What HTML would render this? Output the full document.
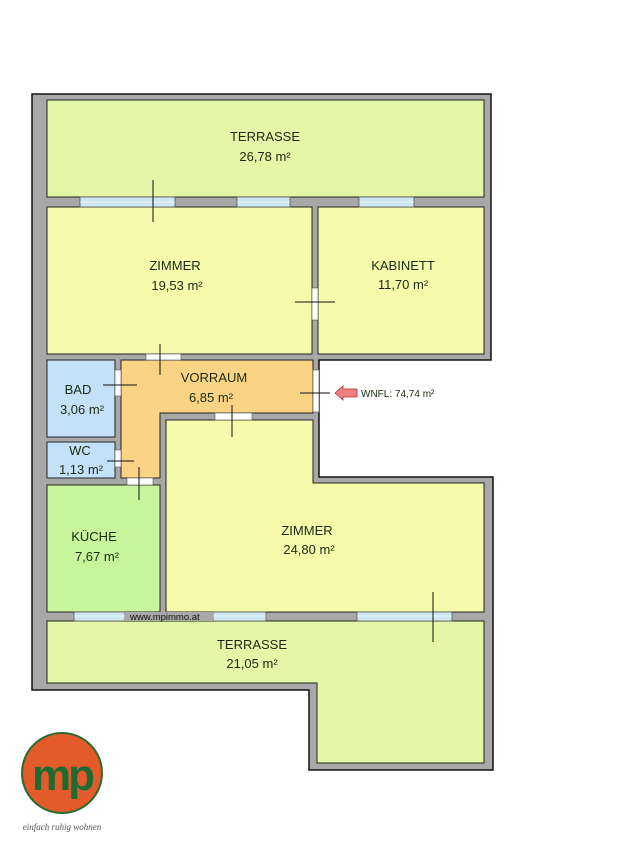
<!DOCTYPE html>
<html><head><meta charset="utf-8"><style>
body{margin:0;background:#fff;width:618px;height:850px;overflow:hidden}
svg{display:block}
text{font-family:"Liberation Sans",sans-serif;fill:#1a2a10}
</style></head><body>
<svg width="618" height="850" viewBox="0 0 618 850">
<polygon points="32,94 491,94 491,360 319,360 319,477 493,477 493,770 309,770 309,690 32,690" fill="#a8a8a8" stroke="#111" stroke-width="1.5"/>
<g stroke="#222" stroke-width="1">
<rect x="47" y="100" width="437" height="97" fill="#e4f7a6"/>
<rect x="47" y="207" width="265" height="147" fill="#f6fbac"/>
<rect x="318" y="207" width="166" height="147" fill="#f6fbac"/>
<rect x="47" y="360" width="68" height="77" fill="#c4e1fa"/>
<rect x="47" y="442" width="68" height="36" fill="#c4e1fa"/>
<polygon points="121,360 313,360 313,413 160,413 160,478 121,478" fill="#fbd384"/>
<polygon points="166,420 313,420 313,483 484,483 484,612 166,612" fill="#f6fbac"/>
<rect x="47" y="485" width="113" height="127" fill="#c8f59b"/>
<polygon points="47,621 484,621 484,763 317,763 317,683 47,683" fill="#e4f7a6"/>
</g>
<g fill="#cfe8f0" stroke="#555" stroke-width="0.8">
<rect x="80" y="197" width="95" height="10"/><rect x="237" y="197" width="53" height="10"/><rect x="359" y="197" width="55" height="10"/>
<rect x="74" y="612" width="51" height="9"/><rect x="213" y="612" width="53" height="9"/><rect x="357" y="612" width="95" height="9"/>
</g>
<g stroke="#fff" stroke-width="0.6"><line x1="80" y1="202" x2="175" y2="202"/><line x1="237" y1="202" x2="290" y2="202"/><line x1="359" y1="202" x2="414" y2="202"/><line x1="74" y1="616" x2="125" y2="616"/><line x1="213" y1="616" x2="266" y2="616"/><line x1="357" y1="616" x2="452" y2="616"/></g>
<rect x="125" y="612" width="88" height="9" fill="#a8a8a8"/>
<text x="130" y="620" font-size="9.5" style="fill:#111">www.mpimmo.at</text>
<g fill="#fff" stroke="#555" stroke-width="0.6">
<rect x="312" y="288" width="6" height="32"/><rect x="146" y="354" width="35" height="6"/><rect x="115" y="370" width="6" height="26"/>
<rect x="115" y="450" width="6" height="17"/><rect x="127" y="478" width="26" height="7"/><rect x="215" y="413" width="37" height="7"/><rect x="313" y="370" width="6" height="42"/>
</g>
<g stroke="#111" stroke-width="1">
<line x1="153" y1="180" x2="153" y2="222"/><line x1="295" y1="302" x2="335" y2="302"/><line x1="160" y1="344" x2="160" y2="375"/>
<line x1="103" y1="385" x2="137" y2="385"/><line x1="107" y1="461" x2="134" y2="461"/><line x1="139" y1="467" x2="139" y2="500"/>
<line x1="232" y1="405" x2="232" y2="437"/><line x1="300" y1="393" x2="330" y2="393"/><line x1="433" y1="592" x2="433" y2="642"/>
</g>
<polygon points="335,393 343,386 343,389 357,389 357,397 343,397 343,400" fill="#f08080" stroke="#a33" stroke-width="0.8"/>
<text x="361" y="397" font-size="10">WNFL: 74,74 m²</text>
<g font-size="13" text-anchor="middle">
<text x="265" y="141">TERRASSE</text><text x="265" y="161">26,78 m²</text>
<text x="175" y="270">ZIMMER</text><text x="177" y="290">19,53 m²</text>
<text x="403" y="270">KABINETT</text><text x="403" y="289">11,70 m²</text>
<text x="78" y="394">BAD</text><text x="82" y="414">3,06 m²</text>
<text x="80" y="455">WC</text><text x="81" y="474">1,13 m²</text>
<text x="214" y="382">VORRAUM</text><text x="211" y="402">6,85 m²</text>
<text x="94" y="541">KÜCHE</text><text x="97" y="561">7,67 m²</text>
<text x="307" y="535">ZIMMER</text><text x="309" y="554">24,80 m²</text>
<text x="252" y="649">TERRASSE</text><text x="252" y="668">21,05 m²</text>
</g>
<circle cx="62" cy="773" r="40" fill="#e35b2a" stroke="#2b6a2f" stroke-width="2"/>
<text x="62" y="790" font-size="44" font-weight="bold" text-anchor="middle" style="fill:#1d6a32;letter-spacing:-3px">mp</text>
<text x="62" y="830" font-size="9" font-style="italic" text-anchor="middle" style="fill:#555;font-family:'Liberation Serif',serif">einfach ruhig wohnen</text>
</svg>
</body></html>
